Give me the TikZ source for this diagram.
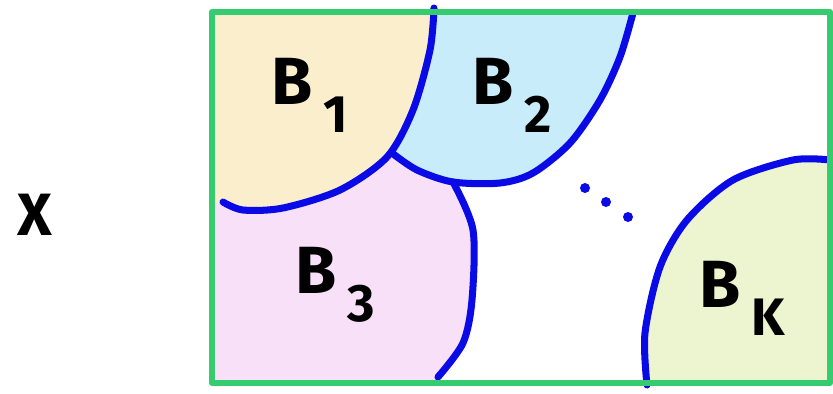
\documentclass[tikz,border=0pt]{standalone}
\usepackage{fontspec}
\setmainfont{Fira Sans}
\usepackage{xcolor}
\usepackage{tikz}

\definecolor{frame}{RGB}{52,204,110}
\definecolor{edge}{RGB}{10,10,230}
\definecolor{fillone}{RGB}{250,238,205}
\definecolor{filltwo}{RGB}{200,236,250}
\definecolor{fillthree}{RGB}{248,224,248}
\definecolor{fillk}{RGB}{236,244,208}

\newcommand{\blab}[1]{B\,\raisebox{-0.42em}{\fontsize{30}{30}\selectfont #1}}

\begin{document}
\begin{tikzpicture}[
      x=0.02cm, y=-0.02cm,
      wall/.style={draw=frame, line width=3.4pt, line join=round},
      cut/.style={draw=edge, line width=4pt, line cap=round},
      lab/.style={font=\fontsize{38}{38}\selectfont\bfseries, inner sep=0pt},
    ]
    \useasboundingbox (0,0) rectangle (833,393);
    % cells
    \fill[fillone] (214,14) -- plot[smooth] coordinates {(434,10) (430,50) (413,110) (387,157) (340,190) (283,208) (243,210) (214,202)} -- cycle;
    \fill[filltwo] (434,14) -- (633,14) -- plot[smooth] coordinates {(633,13) (620,57) (600,100) (570,143) (533,173) (500,183) (453,182) (417,170) (392,153)} -- plot[smooth] coordinates {(387,157) (413,110) (430,50) (434,10)} -- cycle;
    \fill[fillthree] (214,202) -- plot[smooth] coordinates {(243,210) (283,208) (340,190) (387,157)} -- plot[smooth] coordinates {(392,153) (417,170) (453,182) (473,230) (472,300) (463,343) (438,383)} -- (214,383) -- cycle;
    \fill[fillk] plot[smooth] coordinates {(647,385) (645,333) (660,267) (687,220) (733,180) (793,160) (830,160)} -- (830,383) -- cycle;
    % boundaries
    \draw[cut] plot[smooth] coordinates {(434,8) (430,50) (413,110) (387,157) (340,190) (283,208) (243,210) (223,202)};
    \draw[cut] plot[smooth] coordinates {(392,153) (417,170) (453,182) (500,183) (533,173) (570,143) (600,100) (620,57) (633,13)};
    \draw[cut] plot[smooth] coordinates {(453,182) (473,230) (472,300) (463,343) (438,377)};
    \draw[cut] plot[smooth] coordinates {(647,385) (645,333) (660,267) (687,220) (733,180) (793,160) (830,160)};
    \foreach \p in {(585,188),(606,202),(628,217)}
      \fill[edge] \p circle (5);
    \draw[wall] (212,12) rectangle (830,383);
    % labels
    \node[lab] (bone) at (310,95) {\blab{1}};
    \node[lab] (btwo) at (512,95) {\blab{2}};
    \node[lab] (bthree) at (335,285) {\blab{3}};
    \node[lab] (bk) at (742,298) {\blab{K}};
    \node[lab, font=\fontsize{34}{34}\selectfont\bfseries] (space) at (35,215) {X};
  \end{tikzpicture}
\end{document}
